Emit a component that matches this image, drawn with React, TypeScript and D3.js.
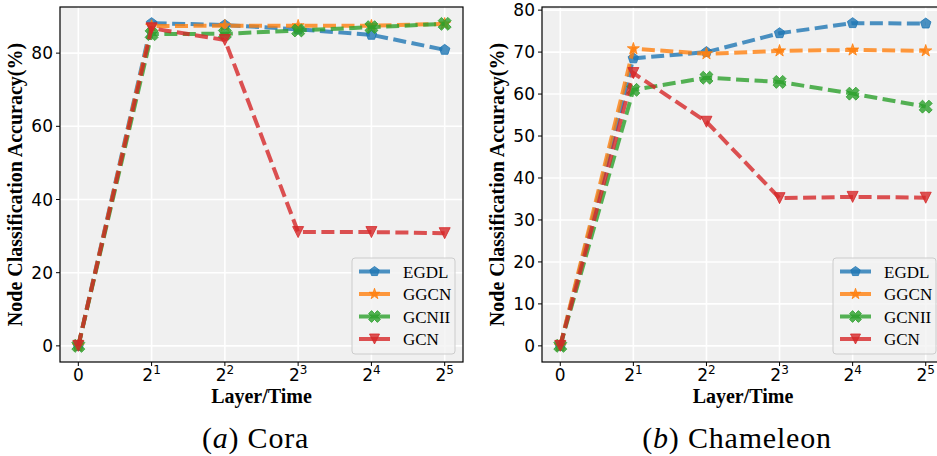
import React from "react";
import { scaleLinear, line, range } from "d3";

const width = 937;
const height = 456;

const xLabels = ["0", "2^1", "2^2", "2^3", "2^4", "2^5"];
const seriesNames = ["EGDL", "GGCN", "GCNII", "GCN"];
const colors = ["#1f77b4", "#ff7f0e", "#2ca02c", "#d62728"];
const markers = ["pentagon", "star", "x", "triangleDown"];

const coraEGDL = [0, 88.2, 87.7, 86.5, 85.0, 80.9];
const coraGGCN = [0, 87.4, 87.5, 87.5, 87.5, 88.0];
const coraGCNII = [0, 85.2, 85.3, 86.2, 87.1, 88.0];
const coraGCN = [0, 86.8, 83.6, 31.1, 31.1, 30.8];

const chamEGDL = [0, 68.5, 70.0, 74.5, 76.9, 76.8];
const chamGGCN = [0, 70.8, 69.6, 70.3, 70.5, 70.3];
const chamGCNII = [0, 61.0, 63.9, 62.9, 60.1, 57.0];
const chamGCN = [0, 65.0, 53.4, 35.2, 35.5, 35.3];

const coraTicks = [0, 20, 40, 60, 80];
const chamTicks = [0, 10, 20, 30, 40, 50, 60, 70, 80];

const serif = "'Liberation Serif', 'Times New Roman', Times, serif";
const sans = "'DejaVu Sans', sans-serif";

const panels = [
  {
    caption: "Cora",
    letter: "a",
    left: 60,
    right: 463,
    series: [coraEGDL, coraGGCN, coraGCNII, coraGCN],
    yTicks: coraTicks,
  },
  {
    caption: "Chameleon",
    letter: "b",
    left: 542,
    right: 944,
    series: [chamEGDL, chamGGCN, chamGCNII, chamGCN],
    yTicks: chamTicks,
  },
];

const top = 7;
const bottom = 362;

function markerPath(kind: string, r: number) {
  const poly = (pts: [number, number][]) =>
    "M" + pts.map((p) => p[0].toFixed(2) + "," + p[1].toFixed(2)).join("L") + "Z";
  if (kind === "pentagon") {
    return poly(
      range(5).map((k) => {
        const a = ((-90 + 72 * k) * Math.PI) / 180;
        return [r * Math.cos(a), r * Math.sin(a)] as [number, number];
      })
    );
  }
  if (kind === "star") {
    const rr = r * 1.15;
    return poly(
      range(10).map((k) => {
        const a = ((-90 + 36 * k) * Math.PI) / 180;
        const rad = k % 2 === 0 ? rr : rr * 0.38;
        return [rad * Math.cos(a), rad * Math.sin(a)] as [number, number];
      })
    );
  }
  if (kind === "triangleDown") {
    return poly([
      [0, r],
      [-r, -r],
      [r, -r],
    ]);
  }
  // filled X
  const L = r * 1.25;
  const w = r * 0.42;
  const plus: [number, number][] = [
    [-w, -L], [w, -L], [w, -w], [L, -w], [L, w], [w, w],
    [w, L], [-w, L], [-w, w], [-L, w], [-L, -w], [-w, -w],
  ];
  const c = Math.SQRT1_2;
  return poly(plus.map(([x, y]) => [c * (x - y), c * (x + y)] as [number, number]));
}

function TickLabel({ label, x, y }: { label: string; x: number; y: number }) {
  if (label.includes("^")) {
    const [base, exp] = label.split("^");
    return (
      <text x={x} y={y} textAnchor="middle" fontSize={17} fontFamily={sans}>
        <tspan>{base}</tspan>
        <tspan fontSize={12} dy={-7}>{exp}</tspan>
      </text>
    );
  }
  return (
    <text x={x} y={y} textAnchor="middle" fontSize={17} fontFamily={sans}>
      {label}
    </text>
  );
}

function Panel({ panel }: { panel: (typeof panels)[number] }) {
  const xScale = scaleLinear().domain([-0.25, 5.25]).range([panel.left, panel.right]);
  const all = panel.series.flat();
  const maxV = Math.max(...all);
  const pad = maxV * 0.05;
  const yScale = scaleLinear().domain([-pad, maxV + pad]).range([bottom, top]);
  const path = line<number>()
    .x((_, i) => xScale(i))
    .y((d) => yScale(d));
  const cx = (panel.left + panel.right) / 2;
  const legX = panel.right - 111;
  const legY = 258;

  return (
    <g>
      <rect
        x={panel.left}
        y={top}
        width={panel.right - panel.left}
        height={bottom - top}
        fill="#f0f0f0"
      />
      {xLabels.map((_, i) => (
        <line
          key={"gx" + i}
          x1={xScale(i)}
          x2={xScale(i)}
          y1={top}
          y2={bottom}
          stroke="#ffffff"
          strokeWidth={1.6}
        />
      ))}
      {panel.yTicks.map((t) => (
        <line
          key={"gy" + t}
          x1={panel.left}
          x2={panel.right}
          y1={yScale(t)}
          y2={yScale(t)}
          stroke="#ffffff"
          strokeWidth={1.6}
        />
      ))}
      {panel.series.map((values, si) => (
        <g key={"s" + si}>
          <path
            d={path(values) || ""}
            fill="none"
            stroke={colors[si]}
            strokeOpacity={0.8}
            strokeWidth={4}
            strokeDasharray="13,5.5"
          />
          {values.map((v, i) => (
            <path
              key={i}
              d={markerPath(markers[si], 5.5)}
              transform={`translate(${xScale(i)},${yScale(v)})`}
              fill={colors[si]}
              fillOpacity={0.8}
              stroke={colors[si]}
              strokeOpacity={0.8}
              strokeWidth={1}
            />
          ))}
        </g>
      ))}
      <rect
        x={panel.left}
        y={top}
        width={panel.right - panel.left}
        height={bottom - top}
        fill="none"
        stroke="#000"
        strokeWidth={1.2}
      />
      {xLabels.map((lab, i) => (
        <g key={"xt" + i}>
          <line x1={xScale(i)} x2={xScale(i)} y1={bottom} y2={bottom + 4} stroke="#000" />
          <TickLabel label={lab} x={xScale(i)} y={bottom + 19} />
        </g>
      ))}
      {panel.yTicks.map((t) => (
        <g key={"yt" + t}>
          <line
            x1={panel.left - 4}
            x2={panel.left}
            y1={yScale(t)}
            y2={yScale(t)}
            stroke="#000"
          />
          <text
            x={panel.left - 7}
            y={yScale(t) + 6}
            textAnchor="end"
            fontSize={17}
            fontFamily={sans}
          >
            {t}
          </text>
        </g>
      ))}
      <text
        x={cx}
        y={403}
        textAnchor="middle"
        fontSize={20}
        fontWeight="bold"
        fontFamily={serif}
      >
        Layer/Time
      </text>
      <text
        transform={`translate(${panel.left - 38},${(top + bottom) / 2}) rotate(-90)`}
        textAnchor="middle"
        fontSize={20}
        fontWeight="bold"
        fontFamily={serif}
      >
        Node Classification Accuracy(%)
      </text>
      <text
        x={cx - 6}
        y={448}
        textAnchor="middle"
        fontSize={30}
        letterSpacing={0.8}
        fontFamily={serif}
      >
        (<tspan fontStyle="italic">{panel.letter}</tspan>) {panel.caption}
      </text>
      <g transform={`translate(${legX},${legY})`}>
        <rect
          x={0}
          y={0}
          width={103}
          height={96}
          rx={3}
          fill="#f2f2f2"
          fillOpacity={0.8}
          stroke="#cccccc"
        />
        {seriesNames.map((name, si) => {
          const ry = 13.5 + si * 22.5;
          return (
            <g key={name}>
              <line
                x1={7}
                x2={38}
                y1={ry}
                y2={ry}
                stroke={colors[si]}
                strokeOpacity={0.8}
                strokeWidth={4}
              />
              <path
                d={markerPath(markers[si], 5)}
                transform={`translate(22.5,${ry})`}
                fill={colors[si]}
                fillOpacity={0.8}
                stroke={colors[si]}
                strokeOpacity={0.8}
              />
              <text x={51} y={ry + 6} fontSize={17} fontFamily={serif}>
                {name}
              </text>
            </g>
          );
        })}
      </g>
    </g>
  );
}

export default function App() {
  return (
    <svg
      width={width}
      height={height}
      style={{ position: "absolute", left: 0, top: 0, background: "#fff" }}
    >
      {panels.map((p) => (
        <Panel key={p.caption} panel={p} />
      ))}
    </svg>
  );
}
